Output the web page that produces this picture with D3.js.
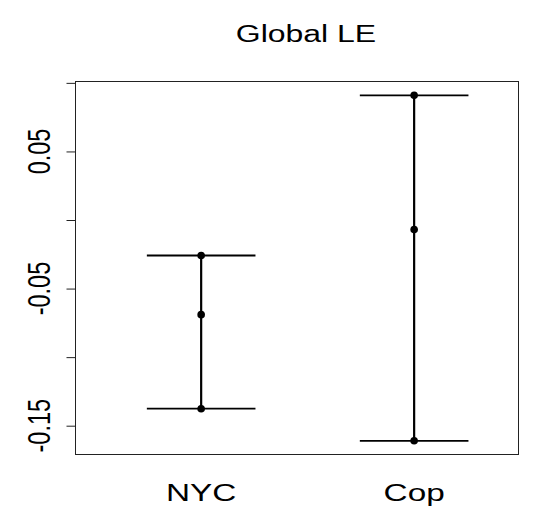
<!DOCTYPE html>
<html>
<head>
<meta charset="utf-8">
<script src="https://cdn.jsdelivr.net/npm/d3@7"></script>
<style>
  html, body { margin: 0; padding: 0; background: #fff; }
  svg { display: block; }
  text { font-family: "Liberation Sans", Arial, Helvetica, sans-serif; fill: #000; }
</style>
</head>
<body>
<script>
// Global LE: point estimate with lower/upper interval per site
const categories = ["NYC", "Cop"];
const estimates = [-0.069, -0.007];
const lower = [-0.1376, -0.161];
const upper = [-0.0259, 0.0909];
const yTicks = [0.1, 0.05, 0, -0.05, -0.1, -0.15];
const yTickLabels = ["", "0.05", "", "-0.05", "", "-0.15"];
const title = "Global LE";

const W = 533, H = 511;
const box = { left: 75.5, right: 518.5, top: 81.5, bottom: 454.5 };
const sx = 1.36; // horizontal stretch applied to the text glyphs

const svg = d3.select("body").append("svg")
  .attr("width", W).attr("height", H);

const x = d3.scaleLinear().domain([0.41, 2.49]).range([box.left, box.right]);
const y = d3.scaleLinear().domain([-0.171, 0.101]).range([box.bottom, box.top]);
const capHalf = 0.255;

// plot frame
svg.append("rect")
  .attr("x", box.left).attr("y", box.top)
  .attr("width", box.right - box.left).attr("height", box.bottom - box.top)
  .attr("fill", "none").attr("stroke", "#222").attr("stroke-width", 1);

// y axis ticks
const yAxis = d3.axisLeft(y).tickValues(yTicks).tickSize(9).tickFormat("");
const gy = svg.append("g").attr("transform", `translate(${box.left},0)`).call(yAxis);
gy.select(".domain").remove();
gy.selectAll(".tick line").attr("stroke", "#222");

// y tick labels, rotated
yTicks.forEach((t, i) => {
  if (!yTickLabels[i]) return;
  svg.append("text")
    .attr("transform", `translate(50,${y(t)}) scale(${sx},1) rotate(-90)`)
    .attr("text-anchor", "middle")
    .attr("font-size", 23.5)
    .text(yTickLabels[i]);
});

// category labels
categories.forEach((c, i) => {
  svg.append("text")
    .attr("transform", `translate(${x(i + 1)},501) scale(${sx},1)`)
    .attr("text-anchor", "middle")
    .attr("font-size", 24.5)
    .text(c);
});

// title
svg.append("text")
  .attr("transform", `translate(306,42) scale(${sx},1)`)
  .attr("text-anchor", "middle")
  .attr("font-size", 23.5)
  .text(title);

// error bars
const g = svg.append("g");
categories.forEach((c, i) => {
  const cx = x(i + 1);
  g.append("line")
    .attr("x1", cx).attr("x2", cx)
    .attr("y1", y(upper[i])).attr("y2", y(lower[i]))
    .attr("stroke", "#000").attr("stroke-width", 2.2);
  [upper[i], lower[i]].forEach(v => {
    g.append("line")
      .attr("x1", x(i + 1 - capHalf)).attr("x2", x(i + 1 + capHalf))
      .attr("y1", y(v)).attr("y2", y(v))
      .attr("stroke", "#000").attr("stroke-width", 1.8);
  });
  [upper[i], estimates[i], lower[i]].forEach(v => {
    g.append("circle")
      .attr("cx", cx).attr("cy", y(v)).attr("r", 3.8)
      .attr("fill", "#000");
  });
});
</script>
</body>
</html>
